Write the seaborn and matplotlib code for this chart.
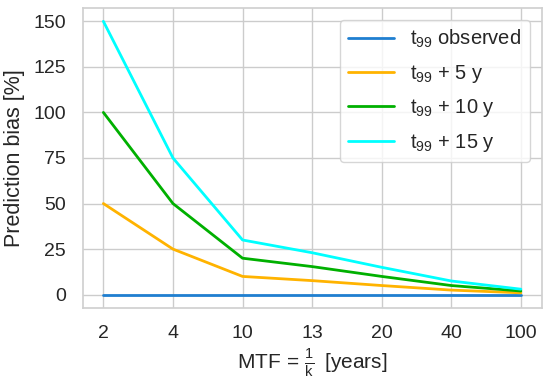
import pandas as pd
import matplotlib
matplotlib.use("Agg")
import matplotlib.pyplot as plt
import seaborn as sns

sns.set_theme(style="whitegrid")
plt.rcParams['font.family'] = ['Liberation Sans', 'DejaVu Sans']
plt.rcParams['mathtext.fontset'] = 'custom'
plt.rcParams['mathtext.rm'] = 'Liberation Sans'
plt.rcParams['mathtext.it'] = 'Liberation Sans:italic'

# values
mtf = ['2', '4', '10', '13', '20', '40', '100']
observed = [0, 0, 0, 0, 0, 0, 0]
plus5 = [50, 25, 10, 7.7, 5, 2.5, 1]
plus10 = [100, 50, 20, 15.4, 10, 5, 2]
plus15 = [150, 75, 30, 23, 15, 7.5, 3]

labels = [r'$\mathrm{t_{99}}$ observed', r'$\mathrm{t_{99}}$ + 5 y',
          r'$\mathrm{t_{99}}$ + 10 y', r'$\mathrm{t_{99}}$ + 15 y']
colors = ['#1f7fd0', '#ffb300', '#00b000', '#00ffff']

rows = []
for lab, vals in zip(labels, [observed, plus5, plus10, plus15]):
    for m, v in zip(mtf, vals):
        rows.append({'MTF': m, 'bias': v, 'series': lab})
df = pd.DataFrame(rows)

fig, ax = plt.subplots(figsize=(5.5, 3.83), dpi=100)
sns.lineplot(data=df, x='MTF', y='bias', hue='series', palette=colors,
             linewidth=2, ax=ax)

ax.set_yticks([0, 25, 50, 75, 100, 125, 150])
ax.tick_params(labelsize=14, pad=6)
ax.set_ylabel('Prediction bias [%]', fontsize=15.5, labelpad=6)
ax.set_xlabel(r'MTF$\,=\,\frac{\mathrm{1}}{\mathrm{k}}\,$ [years]', fontsize=15, labelpad=4)
for s in ax.spines.values():
    s.set_color('#d0d0d0')
ax.legend(title=None, loc='upper right', fontsize=14.5, handlelength=2.3,
          labelspacing=0.62, borderaxespad=0.6)

plt.subplots_adjust(left=0.15, right=0.985, top=0.98, bottom=0.195)
fig.savefig('out.png', dpi=100)
